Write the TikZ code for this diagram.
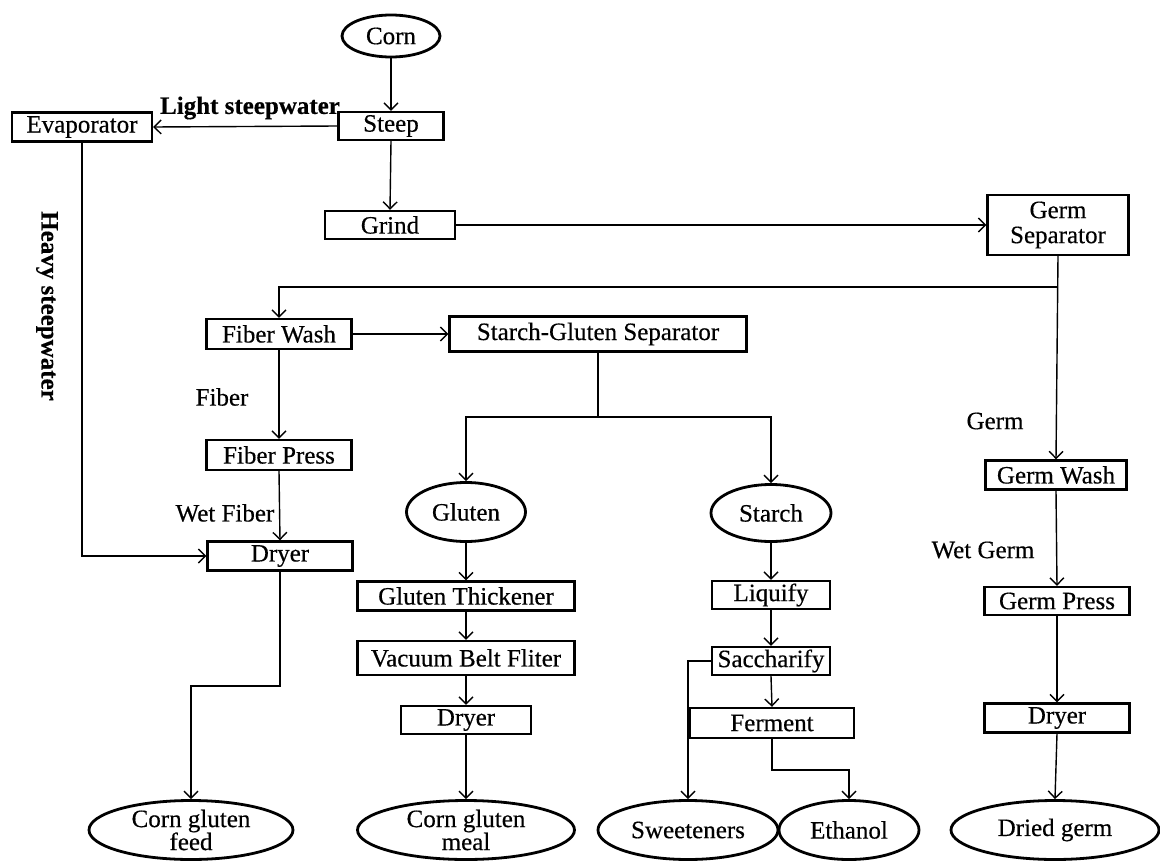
\documentclass[tikz,border=0pt]{standalone}
\usepackage{fontspec}
\setmainfont[FakeStretch=1.0,FakeBold=0.4]{Liberation Serif}
\usetikzlibrary{arrows.meta,shapes.geometric}
\begin{document}
\begin{tikzpicture}[x=1pt,y=-1pt,
  every node/.style={font=\fontsize{25}{27}\selectfont},
  proc/.style={draw,line width=2.4pt,rectangle,inner sep=0pt},
  prod/.style={draw,line width=2.8pt,ellipse,inner sep=0pt,align=center},
  lbl/.style={inner sep=0pt},
  conn/.style={line width=1.4pt,-{Straight Barb[length=7pt,width=14pt,line width=1.4pt]}},
  plain/.style={line width=1.4pt}]
\useasboundingbox (0,0) rectangle (1160,862);
\fill[white] (0,0) rectangle (1160,862);
% nodes
\node[prod,minimum width=98pt,minimum height=42pt] (corn) at (391,36) {Corn};
\node[proc,minimum width=105pt,minimum height=28pt] (steep) at (391,126) {Steep};
\node[proc,minimum width=140pt,minimum height=29pt] (evap) at (82,127) {Evaporator};
\node[proc,minimum width=130pt,minimum height=28pt] (grind) at (390,225) {Grind};
\node[proc,minimum width=141pt,minimum height=60pt,align=center] (gsep) at (1058,225) {Germ\\[-2pt]Separator};
\node[proc,minimum width=145pt,minimum height=30pt] (fwash) at (279,334) {Fiber Wash};
\node[proc,minimum width=297pt,minimum height=35pt] (sgs) at (598,334) {Starch-Gluten Separator};
\node[proc,minimum width=145pt,minimum height=30pt] (fpress) at (279,455) {Fiber Press};
\node[proc,minimum width=145pt,minimum height=29pt] (dryA) at (280,556) {Dryer};
\node[prod,minimum width=119pt,minimum height=59pt] (gluten) at (466,512) {Gluten};
\node[prod,minimum width=120pt,minimum height=57pt] (starch) at (771,513) {Starch};
\node[proc,minimum width=217pt,minimum height=29pt] (gthick) at (466,596) {Gluten Thickener};
\node[proc,minimum width=217pt,minimum height=34pt] (vbf) at (466,658) {Vacuum Belt Fliter};
\node[proc,minimum width=130pt,minimum height=28pt] (dryB) at (466,720) {Dryer};
\node[proc,minimum width=118pt,minimum height=28pt] (liq) at (771,595) {Liquify};
\node[proc,minimum width=118pt,minimum height=28pt] (sacc) at (771,661) {Saccharify};
\node[proc,minimum width=164pt,minimum height=30pt] (ferm) at (772,723) {Ferment};
\node[proc,minimum width=141pt,minimum height=29pt] (gwash) at (1056,475) {Germ Wash};
\node[proc,minimum width=145pt,minimum height=28pt] (gpress) at (1057,601) {Germ Press};
\node[proc,minimum width=145pt,minimum height=29pt] (dryC) at (1057,718) {Dryer};
\node[prod,minimum width=204pt,minimum height=59pt] (cgf) at (191,830) {Corn gluten\\[-4pt]feed};
\node[prod,minimum width=217pt,minimum height=59pt] (cgm) at (466,830) {Corn gluten\\[-4pt]meal};
\node[prod,minimum width=180pt,minimum height=59pt] (sweet) at (688,830) {Sweeteners};
\node[prod,minimum width=140pt,minimum height=59pt] (eth) at (849,830) {Ethanol};
\node[prod,minimum width=208pt,minimum height=59pt] (dgerm) at (1055,830) {Dried germ};
% labels
\node[lbl,font=\fontsize{25}{27}\selectfont\bfseries] (lsw) at (250,108) {Light steepwater};
\node[lbl,font=\fontsize{25}{27}\selectfont\bfseries,rotate=-90] (hsw) at (47,306) {Heavy steepwater};
\node[lbl] (lfiber) at (222,397) {Fiber};
\node[lbl] (lwfiber) at (225,513) {Wet Fiber};
\node[lbl] (lgerm) at (995,421) {Germ};
\node[lbl] (lwgerm) at (983,550) {Wet Germ};
% junction coordinates
\coordinate (j1) at (1058,287);
\coordinate (sj) at (598,417);
\coordinate (b1) at (191,686);
\coordinate (b2) at (849,770);
% connectors
\draw[conn] (corn.south) -- (steep.north);
\draw[conn] (steep.west) -- (evap.east);
\draw[conn] (steep.south) -- (grind.north);
\draw[conn] (grind.east) -- (gsep.west);
\draw[conn] (gsep.south) -- (gwash.north);
\draw[conn] (j1) -| (fwash.north);
\draw[conn] (fwash.east) -- (sgs.west);
\draw[conn] (fwash.south) -- (fpress.north);
\draw[conn] (fpress.south) -- (dryA.north);
\draw[conn] (evap.south) |- (dryA.west);
\draw[conn] (dryA.south) |- (b1) -- (cgf.north);
\draw[plain] (sgs.south) -- (sj);
\draw[conn] (sj) -| (gluten.north);
\draw[conn] (sj) -| (starch.north);
\draw[conn] (gluten.south) -- (gthick.north);
\draw[conn] (gthick.south) -- (vbf.north);
\draw[conn] (vbf.south) -- (dryB.north);
\draw[conn] (dryB.south) -- (cgm.north);
\draw[conn] (starch.south) -- (liq.north);
\draw[conn] (liq.south) -- (sacc.north);
\draw[conn] (sacc.south) -- (ferm.north);
\draw[conn] (sacc.west) -| (sweet.north);
\draw[conn] (ferm.south) |- (b2) -- (eth.north);
\draw[conn] (gwash.south) -- (gpress.north);
\draw[conn] (gpress.south) -- (dryC.north);
\draw[conn] (dryC.south) -- (dgerm.north);
\end{tikzpicture}
\end{document}
